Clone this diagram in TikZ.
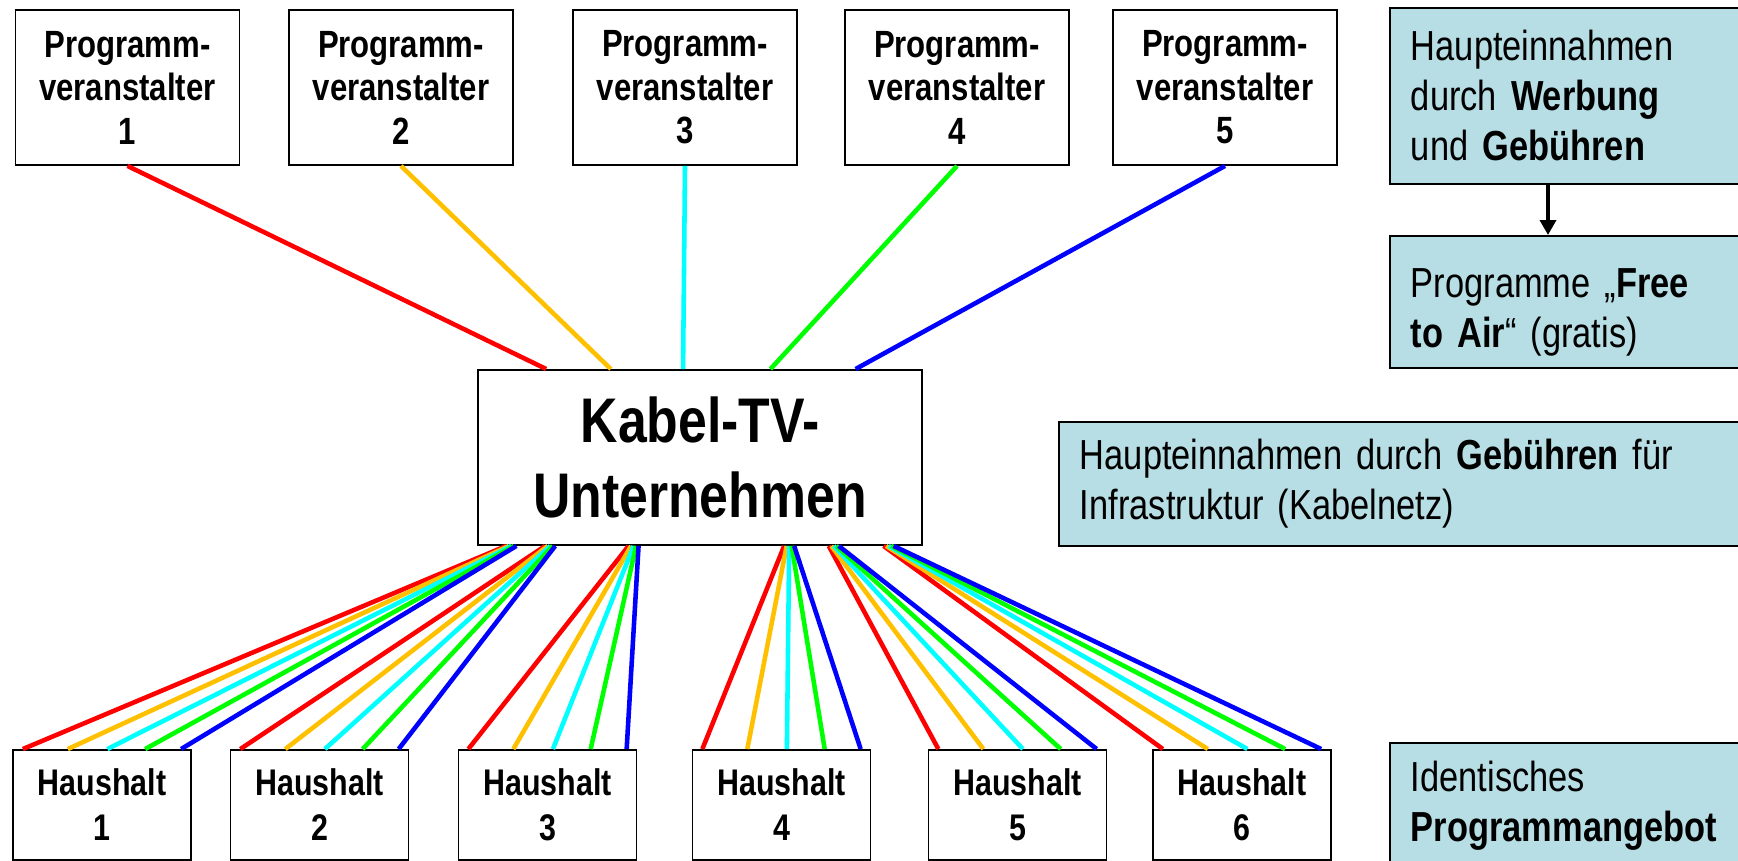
\documentclass[tikz,border=0pt]{standalone}
\usepackage{fontspec}
\setmainfont{Liberation Sans}[FakeStretch=0.82]
\usetikzlibrary{calc,arrows.meta}
\definecolor{hellblau}{RGB}{183,222,228}
\definecolor{rot}{RGB}{255,0,0}
\definecolor{gelb}{RGB}{255,192,0}
\definecolor{tuerkis}{RGB}{0,255,255}
\definecolor{gruen}{RGB}{0,255,0}
\definecolor{blau}{RGB}{0,0,255}
\tikzset{
    box/.style={draw,line width=1.1pt,fill=white,align=center,inner sep=0pt},
    sender/.style={box,minimum width=4.48cm,minimum height=3.1cm,font=\bfseries\fontsize{21.6}{24.75}\selectfont},
    haushalt/.style={box,minimum width=3.56cm,minimum height=2.2cm,font=\bfseries\fontsize{21.1}{25.6}\selectfont},
    info/.style={draw,line width=1.1pt,fill=hellblau,anchor=north west,align=left,inner xsep=0.42cm,inner ysep=0pt,font=\fontsize{23.9}{28.45}\selectfont},
    leitung/.style={line width=2.6pt},
    zeiger/.style={line width=2pt,-{Triangle[width=0.32cm,length=0.3cm]}}
}
\begin{document}
\begin{tikzpicture}[x=0.02cm,y=-0.02cm]
                        \useasboundingbox (0,0) rectangle (1738,861);
                        \node[sender] (pv1) at (127.5,87.5) {Programm-\\veranstalter\\1};
                        \node[sender] (pv2) at (401,87.5) {Programm-\\veranstalter\\2};
                        \node[sender] (pv3) at (685,87.5) {Programm-\\veranstalter\\3};
                        \node[sender] (pv4) at (957,87.5) {Programm-\\veranstalter\\4};
                        \node[sender] (pv5) at (1225,87.5) {Programm-\\veranstalter\\5};
                        \node[box,minimum width=8.88cm,minimum height=3.5cm,font=\bfseries\fontsize{35.9}{42.7}\selectfont] (kabel) at (700,457.5) {Kabel-TV-\\Unternehmen};
                        \node[haushalt] (hh1) at (102,805) {Haushalt\\1};
                        \node[haushalt] (hh2) at (319.5,805) {Haushalt\\2};
                        \node[haushalt] (hh3) at (547.5,805) {Haushalt\\3};
                        \node[haushalt] (hh4) at (781.5,805) {Haushalt\\4};
                        \node[haushalt] (hh5) at (1017.5,805) {Haushalt\\5};
                        \node[haushalt] (hh6) at (1242,805) {Haushalt\\6};
                        \node[info,text width=7.16cm,minimum height=3.52cm] (werbung) at (1389,7) {Haupteinnahmen\\durch \textbf{Werbung}\\und \textbf{Gebühren}};
                        \node[info,text width=7.16cm,minimum height=2.64cm] (gratis) at (1389,235) {\rule{0pt}{1.0cm}Programme „\textbf{Free}\\\textbf{to Air}“ (gratis)};
                        \node[info,text width=13.16cm,minimum height=2.48cm] (gebuehren) at (1058,421) {Haupteinnahmen durch \textbf{Gebühren} für\\Infrastruktur (Kabelnetz)};
                        \node[info,text width=7.16cm,minimum height=2.5cm] (angebot) at (1389,742) {Identisches\\\textbf{Programmangebot}};
                        \coordinate (pfeil) at (1548,183);
                        \draw[zeiger] (pfeil) -- (pfeil |- gratis.north);
                        \draw[leitung,rot] (pv1.south) -- ($(kabel.north west)!0.155!(kabel.north east)$);
                        \draw[leitung,gelb] (pv2.south) -- ($(kabel.north west)!0.30!(kabel.north east)$);
                        \draw[leitung,tuerkis] (pv3.south) -- ($(kabel.north west)!0.462!(kabel.north east)$);
                        \draw[leitung,gruen] (pv4.south) -- ($(kabel.north west)!0.658!(kabel.north east)$);
                        \draw[leitung,blau] (pv5.south) -- ($(kabel.north west)!0.849!(kabel.north east)$);
                        \foreach \h/\f in {1/0.077,2/0.164,3/0.351,4/0.70,5/0.80,6/0.923}
                            \foreach \farbe/\c/\g in {rot/0/0.06,gelb/1/0.31,tuerkis/2/0.53,gruen/3/0.74,blau/4/0.94}
                                \draw[leitung,\farbe] ($(kabel.south west)!\f!(kabel.south east)+(2.5*\c-5,0)$) -- ($(hh\h.north west)!\g!(hh\h.north east)$);
                    \end{tikzpicture}
\end{document}
